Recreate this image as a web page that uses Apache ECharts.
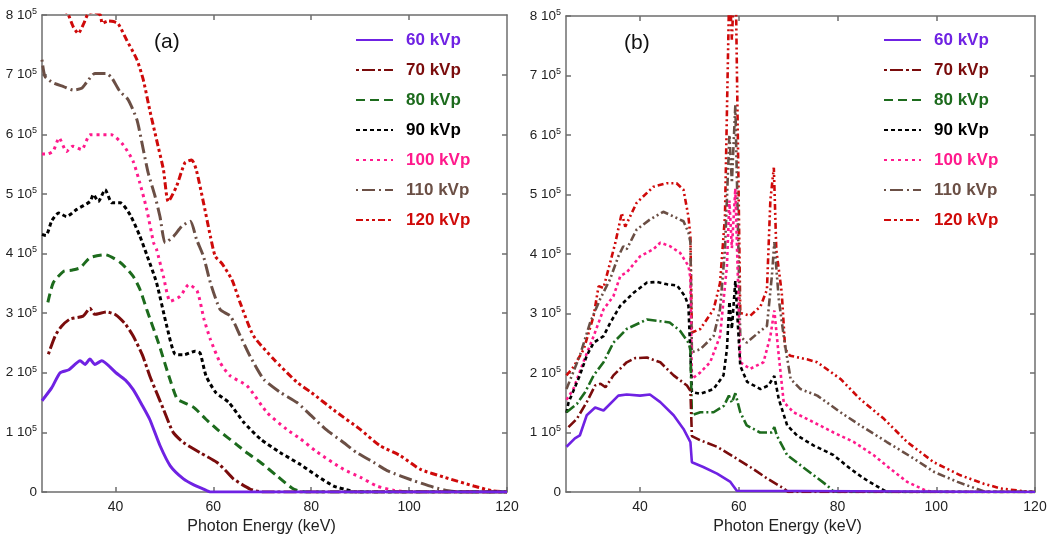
<!DOCTYPE html>
<html>
<head>
<meta charset="utf-8">
<script src="https://cdn.jsdelivr.net/npm/echarts@6/dist/echarts.min.js"></script>
<style>
html,body{margin:0;padding:0;background:#fff;}
#chart{width:1050px;height:540px;}
</style>
</head>
<body>
<div id="chart"></div>
<script>
// Photon counts in units of 10^5, energies in keV
const seriesNames = ['60 kVp','70 kVp','80 kVp','90 kVp','100 kVp','110 kVp','120 kVp'];
const xTicks = [40, 60, 80, 100, 120];
const yTicks = [0, 1, 2, 3, 4, 5, 6, 7, 8];

// Panel (a)
const a60 = [[25,1.53],[27,1.75],[28.7,2.0],[30.5,2.05],[32.8,2.2],[33.8,2.14],[34.8,2.23],[35.8,2.14],[37.2,2.2],[40.1,2.0],[42,1.88],[43.6,1.72],[45.5,1.45],[47,1.22],[49.1,0.78],[51.2,0.44],[53.9,0.22],[56,0.12],[58,0.05],[59.5,0],[120,0]];
const a70 = [[26.3,2.31],[27.7,2.62],[29,2.78],[30.7,2.9],[33.4,2.95],[34.8,3.08],[35.8,2.98],[38.2,3.02],[40.1,2.97],[42,2.82],[43.6,2.62],[45.5,2.3],[47,1.95],[48.5,1.65],[49.8,1.39],[51.8,1.0],[53.9,0.83],[57.3,0.66],[60.7,0.5],[62.5,0.36],[64.1,0.22],[67.5,0.05],[70,0],[120,0]];
const a80 = [[26.2,3.18],[27.3,3.51],[29.4,3.7],[31,3.72],[32.8,3.76],[34.8,3.93],[37.9,3.98],[41,3.85],[43.6,3.62],[45,3.4],[46.4,3.06],[48.8,2.5],[50.9,1.95],[52.6,1.56],[54,1.5],[56,1.42],[58.5,1.22],[60.8,1.05],[64.7,0.8],[67,0.65],[69.6,0.5],[73,0.27],[76.4,0.05],[79,0],[120,0]];
const a90 = [[25,4.32],[25.8,4.3],[27,4.55],[28.4,4.68],[30,4.62],[32.1,4.74],[34.8,4.87],[35.5,4.99],[36.5,4.87],[37.9,5.07],[39.3,4.85],[41,4.85],[43,4.65],[45,4.29],[46.4,3.98],[48.4,3.51],[50.5,2.78],[52.2,2.31],[53.9,2.3],[56.3,2.36],[57.3,2.33],[58.5,1.95],[60.5,1.67],[63.2,1.5],[66.2,1.17],[69.6,0.89],[73.7,0.66],[77.8,0.46],[81.2,0.27],[84.6,0.1],[88,0.02],[89,0],[120,0]];
const a100 = [[25,5.67],[26.1,5.67],[27.3,5.72],[28.5,5.94],[30,5.71],[31.3,5.8],[33.1,5.74],[34.8,5.99],[37.2,5.99],[39.2,5.99],[41.6,5.82],[43.6,5.55],[45,5.18],[46.4,4.74],[47.8,4.18],[48.4,4.07],[49.8,3.62],[51.2,3.2],[53.2,3.28],[55,3.48],[56.7,3.37],[58.1,2.9],[59.4,2.56],[61.4,2.17],[63.4,1.95],[66.9,1.78],[71,1.33],[75,1.05],[77.8,0.89],[81.2,0.67],[86.6,0.38],[90,0.25],[93.4,0.1],[96.8,0.03],[100,0],[120,0]];
const a110 = [[25,7.25],[25.6,6.97],[27.3,6.86],[29.4,6.8],[31.4,6.74],[33.1,6.77],[34.2,6.88],[35.8,7.02],[38.2,7.02],[39.3,6.94],[40.9,6.72],[42.6,6.58],[44.4,6.24],[45.7,5.74],[46.7,5.35],[48.1,4.96],[49.1,4.62],[50.2,4.18],[51.9,4.29],[53.6,4.46],[55.3,4.54],[56.6,4.23],[58,3.95],[59.4,3.51],[61.4,3.06],[63.5,2.95],[65.5,2.62],[67.5,2.28],[70.3,1.89],[73.7,1.67],[77.1,1.5],[80,1.28],[83,1.05],[86.6,0.83],[89.3,0.66],[92.7,0.5],[95.5,0.36],[100.9,0.19],[105,0.08],[108,0.02],[110,0],[120,0]];
const a120 = [[25,8.4],[28,8.3],[29.5,8.1],[30.4,8.0],[31.4,7.8],[32.4,7.69],[33.5,7.85],[34.4,8.02],[35.5,8.05],[36.9,8.0],[37.3,7.86],[38.5,7.9],[39.6,7.89],[40.6,7.85],[42.3,7.58],[44.4,7.25],[45.7,6.91],[47,6.41],[48.4,5.91],[49.8,5.41],[50.8,4.87],[52.5,5.13],[54.2,5.52],[55.6,5.57],[56.5,5.41],[58,4.85],[59.4,4.29],[60.4,3.95],[61.7,3.84],[63.8,3.56],[65.5,3.17],[68.2,2.62],[72.3,2.23],[77.1,1.84],[80,1.67],[85,1.35],[90,1.05],[94,0.78],[98.2,0.61],[102.3,0.38],[107.1,0.25],[113.2,0.1],[117,0.02],[120,0]];

// Panel (b)
const b60 = [[25.1,0.76],[26.8,0.9],[27.8,0.95],[29.2,1.29],[30.9,1.42],[32.6,1.37],[35.6,1.62],[37.3,1.64],[40,1.62],[42,1.64],[44.1,1.51],[46.8,1.29],[48.8,1.06],[50.2,0.84],[50.5,0.5],[52.8,0.42],[55.6,0.31],[58.3,0.17],[59.6,0.02],[60,0],[120,0]];
const b70 = [[25.5,1.09],[27.2,1.23],[29.2,1.51],[30.9,1.79],[32,1.82],[33,1.76],[34.6,1.96],[37.3,2.18],[39,2.25],[41.4,2.26],[44.1,2.18],[46.8,1.96],[49.5,1.79],[50.2,1.7],[50.5,0.94],[52.2,0.87],[55.6,0.76],[59,0.59],[62.3,0.42],[65.7,0.23],[69.1,0.06],[70,0],[120,0]];
const b80 = [[25.1,1.34],[27.2,1.48],[28.9,1.68],[30.6,1.96],[32.6,2.18],[34.6,2.51],[37.3,2.74],[41.4,2.9],[44.1,2.87],[46,2.85],[48.1,2.71],[49.8,2.51],[50.2,2.4],[50.5,1.29],[52.2,1.34],[54.9,1.34],[57,1.45],[58,1.62],[58.6,1.5],[59.3,1.66],[60.3,1.34],[61.6,1.12],[64.3,1.0],[66.7,1.0],[67.2,1.09],[67.7,0.95],[69.8,0.62],[72.5,0.45],[75.2,0.28],[77.9,0.11],[79,0.02],[80,0],[120,0]];
const b90 = [[25.1,1.33],[25.5,1.5],[27.8,1.96],[29.2,2.29],[30.6,2.51],[32.6,2.62],[34,2.85],[36,3.13],[38.7,3.35],[41.4,3.52],[43.4,3.53],[45.5,3.49],[47.5,3.47],[49.1,3.29],[49.8,3.13],[50.5,1.68],[52.2,1.65],[54.9,1.73],[56.9,1.96],[57.6,2.4],[58.1,3.2],[58.6,2.74],[59.3,3.55],[60.3,2.12],[61.7,1.85],[64.4,1.73],[66,1.79],[67.2,1.95],[68.1,1.56],[69.8,1.12],[71.8,0.95],[75.2,0.78],[79.2,0.62],[82.6,0.39],[85.3,0.23],[88.7,0.06],[90,0],[120,0]];
const b100 = [[25.1,1.55],[26.5,1.73],[28.5,2.18],[30.6,2.62],[32.6,3.07],[34.6,3.29],[36,3.63],[37.3,3.69],[40,3.96],[42.7,4.08],[44.1,4.19],[46.1,4.13],[48.1,4.02],[49.8,3.8],[50.2,3.6],[50.5,1.9],[52.2,2.01],[54.2,2.18],[56.2,2.62],[57.6,3.8],[58.1,4.9],[58.6,4.1],[59.3,5.1],[60.3,2.18],[62.3,2.07],[65,2.18],[66.4,2.62],[67.2,3.05],[68.1,2.29],[69.1,1.51],[71.1,1.34],[75.2,1.17],[79.2,1.0],[83.3,0.84],[87.3,0.62],[90.7,0.39],[94.1,0.17],[98,0.02],[100,0],[120,0]];
const b110 = [[25.1,1.73],[27.8,2.29],[29.9,2.85],[31.9,3.24],[33.9,3.57],[35.6,3.96],[36.6,4.13],[37.3,4.08],[39.3,4.41],[42,4.58],[44.7,4.71],[46.8,4.63],[48.8,4.55],[49.8,4.36],[50.2,4.2],[50.5,2.35],[52.2,2.4],[54.9,2.62],[56.2,3.07],[57.2,4.07],[58.1,6.0],[58.6,5.2],[59.3,6.5],[60.3,2.62],[61.6,2.51],[64,2.68],[65.7,2.79],[66.7,3.63],[67.2,4.2],[68.1,3.24],[69.1,2.62],[69.6,2.35],[70.5,1.9],[72.5,1.73],[75.9,1.62],[80.6,1.34],[84.6,1.12],[90,0.84],[95.5,0.56],[99.5,0.34],[104.3,0.17],[108.3,0.05],[110,0],[120,0]];
const b120 = [[25.1,1.96],[26.5,2.1],[28.6,2.4],[30.6,2.96],[31.6,3.46],[32.6,3.43],[35,4.19],[36.3,4.69],[37,4.46],[39.3,4.86],[42.7,5.13],[45.4,5.19],[47.4,5.19],[48.8,5.08],[49.8,4.63],[50.2,4.3],[50.5,2.68],[52.2,2.74],[54.9,3.07],[56.2,3.51],[57.2,4.63],[58.1,8.6],[58.6,7.6],[59.3,9],[60.3,3.01],[62.3,2.96],[64.4,3.12],[65.7,3.4],[66.4,4.91],[67.1,5.45],[67.6,4.07],[68.7,3.35],[69.4,2.4],[70.4,2.29],[73.8,2.23],[75.9,2.18],[80.6,1.9],[84.6,1.56],[89.4,1.23],[94.1,0.84],[99.5,0.5],[104.9,0.28],[109.6,0.14],[113,0.06],[118,0.01],[120,0]];

const panelA = [a60, a70, a80, a90, a100, a110, a120];
const panelB = [b60, b70, b80, b90, b100, b110, b120];

const colors = ['#6f22e3', '#7a0c0c', '#1d6b1d', '#000000', '#ff1a8c', '#6b4f45', '#cf0a0a'];
const dashes = [
  'solid',
  [3, 3, 13, 3],
  [9, 5],
  [4, 3],
  [3, 4],
  [2, 4, 13, 4],
  [7, 3, 3, 3, 3, 3]
];
const dashesB = [
  'solid',
  [10, 3, 2, 3],
  [10, 3, 2, 3],
  [4, 3],
  [3, 3],
  [8, 3, 2, 3, 2, 3],
  [6, 3, 2, 3, 2, 3]
];

const FONT = 'Liberation Sans, Arial, sans-serif';
const axisColor = '#6e6e6e';

function yLabel(v) {
  if (v === 0) return '{a|0}';
  return '{a|' + v + ' 10}{s|5}';
}
const yRich = {
  a: {fontSize: 13.5, color: '#222', fontFamily: FONT, lineHeight: 16},
  s: {fontSize: 9, color: '#222', fontFamily: FONT, verticalAlign: 'top', lineHeight: 16, padding: [0, 0, 6, 0]}
};

function makeAxes(gridIndex) {
  const xb = {
    type: 'value', gridIndex, min: 25, max: 120, position: 'bottom',
    splitLine: {show: false},
    axisLine: {show: true, onZero: false, lineStyle: {color: axisColor, width: 1.5}},
    axisTick: {show: true, inside: true, length: 5, customValues: xTicks, lineStyle: {color: axisColor, width: 1.5}},
    axisLabel: {show: true, customValues: xTicks, fontSize: 14, color: '#222', fontFamily: FONT, margin: 8},
    name: 'Photon Energy (keV)', nameLocation: 'middle', nameGap: 27,
    nameTextStyle: {fontSize: 16, color: '#222', fontFamily: FONT, padding: [0, 26, 0, 0]}
  };
  const xt = {
    type: 'value', gridIndex, min: 25, max: 120, position: 'top',
    splitLine: {show: false},
    axisLine: {show: true, onZero: false, lineStyle: {color: axisColor, width: 1.5}},
    axisTick: {show: true, inside: true, length: 5, customValues: [40, 60, 80, 100], lineStyle: {color: axisColor, width: 1.5}},
    axisLabel: {show: false}
  };
  const yl = {
    type: 'value', gridIndex, min: 0, max: 8, interval: 1, position: 'left',
    splitLine: {show: false},
    axisLine: {show: true, onZero: false, lineStyle: {color: axisColor, width: 1.5}},
    axisTick: {show: true, inside: true, length: 5, customValues: yTicks, lineStyle: {color: axisColor, width: 1.5}},
    axisLabel: {show: true, customValues: yTicks, formatter: yLabel, rich: yRich, margin: 5}
  };
  const yr = {
    type: 'value', gridIndex, min: 0, max: 8, interval: 1, position: 'right',
    splitLine: {show: false},
    axisLine: {show: true, onZero: false, lineStyle: {color: axisColor, width: 1.5}},
    axisTick: {show: true, inside: true, length: 5, customValues: [1,2,3,4,5,6,7], lineStyle: {color: axisColor, width: 1.5}},
    axisLabel: {show: false}
  };
  return {x: [xb, xt], y: [yl, yr]};
}

const axA = makeAxes(0);
const axB = makeAxes(1);

const series = [];
panelA.forEach((d, i) => {
  series.push({
    name: seriesNames[i], type: 'line', xAxisIndex: 0, yAxisIndex: 0,
    data: d, symbol: 'none', smooth: 0.2, clip: true,
    lineStyle: {color: colors[i], width: 3, type: dashes[i], cap: 'butt'},
    itemStyle: {color: colors[i]}, z: 10 - i
  });
});
panelB.forEach((d, i) => {
  series.push({
    name: seriesNames[i], type: 'line', xAxisIndex: 2, yAxisIndex: 2,
    data: d, symbol: 'none', smooth: false, clip: true,
    lineStyle: {color: colors[i], width: 2.6, type: dashesB[i], cap: 'butt'},
    itemStyle: {color: colors[i]}, z: 10 - i
  });
});

function legendData() {
  return seriesNames.map((n, i) => ({name: n, textStyle: {color: colors[i]}}));
}
function makeLegend(left) {
  return {
    orient: 'vertical', left, top: 26, itemWidth: 37, itemHeight: 14, itemGap: 12,
    selectedMode: false, data: legendData(),
    itemStyle: {opacity: 0},
    textStyle: {fontSize: 17, fontWeight: 'bold', fontFamily: FONT, lineHeight: 18, padding: [0, 0, 0, 8]}
  };
}

const option = {
  animation: false,
  backgroundColor: '#fff',
  title: [
    {text: '(a)', left: 149, top: 27, textStyle: {fontSize: 21, fontWeight: 'normal', color: '#111', fontFamily: FONT}},
    {text: '(b)', left: 619, top: 28, textStyle: {fontSize: 21, fontWeight: 'normal', color: '#111', fontFamily: FONT}}
  ],
  legend: [makeLegend(350), makeLegend(878)],
  grid: [
    {left: 42, top: 15, width: 465, height: 478, containLabel: false},
    {left: 566, top: 16, width: 469, height: 478, containLabel: false}
  ],
  xAxis: [axA.x[0], axA.x[1], axB.x[0], axB.x[1]],
  yAxis: [axA.y[0], axA.y[1], axB.y[0], axB.y[1]],
  series
};

const chart = echarts.init(document.getElementById('chart'), null, {renderer: 'canvas'});
chart.setOption(option);
</script>
</body>
</html>
